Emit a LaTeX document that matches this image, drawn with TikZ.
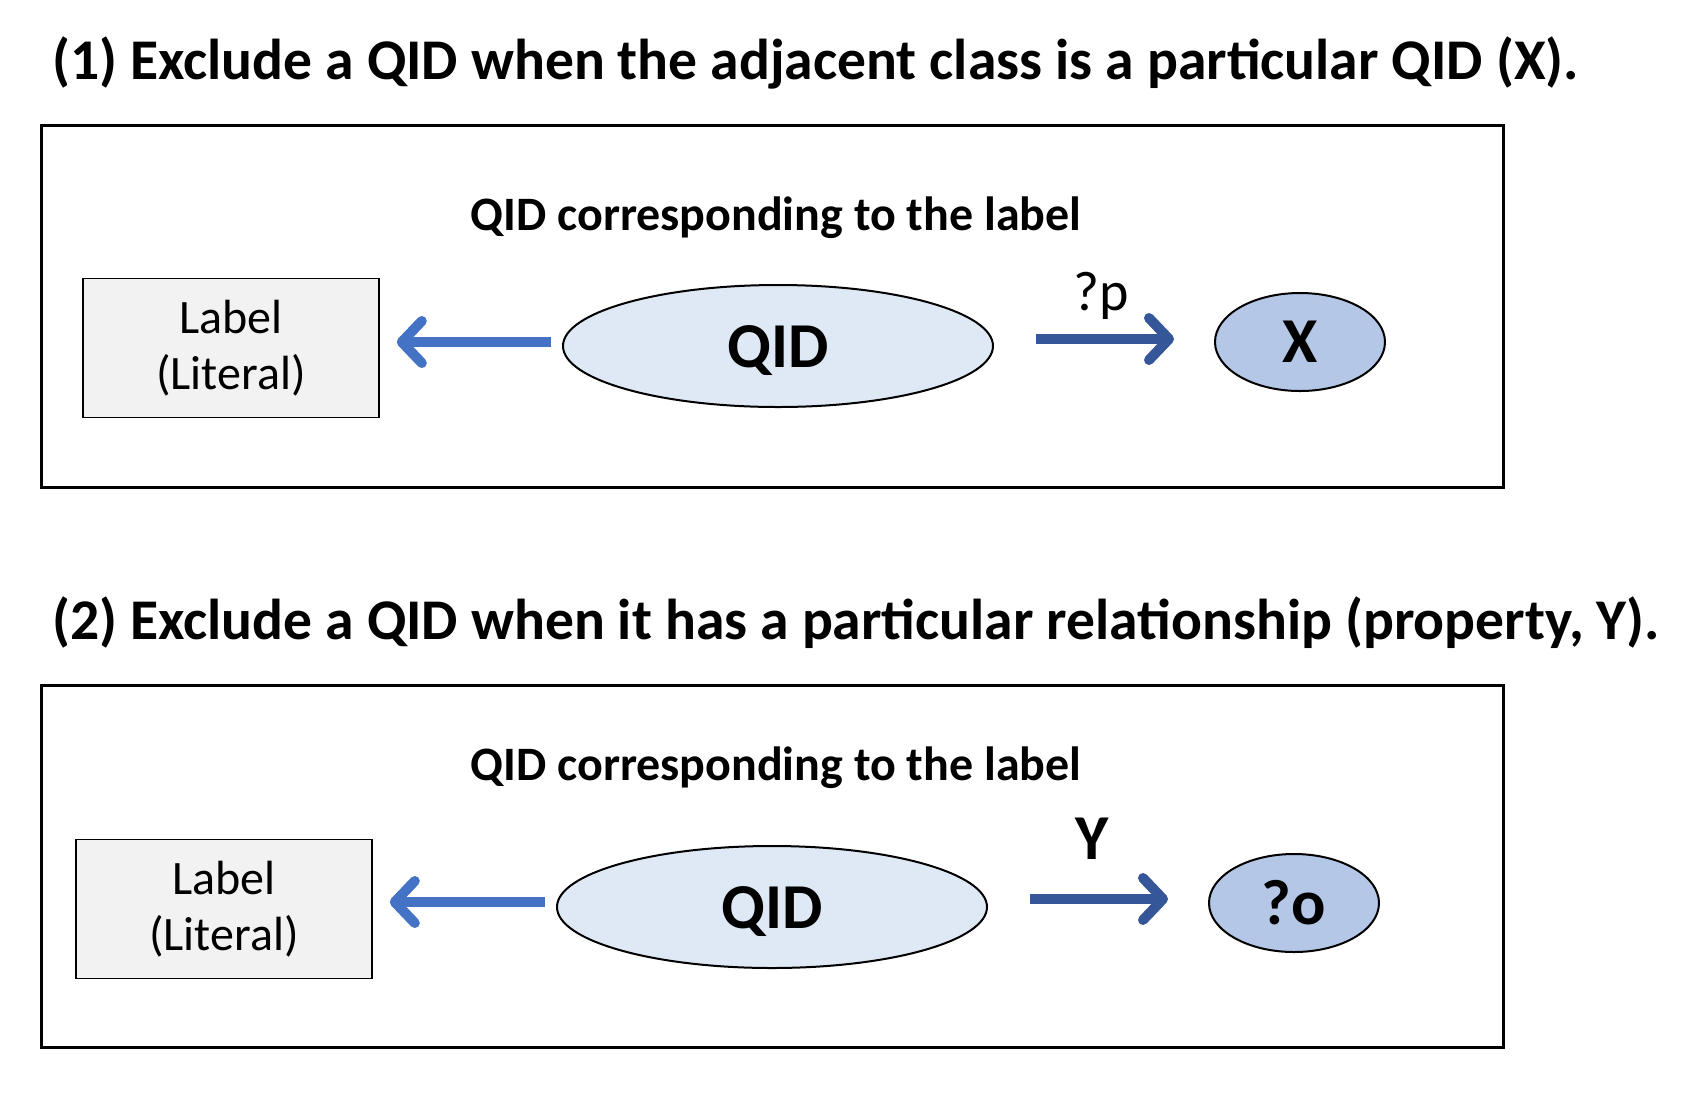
\documentclass[tikz,border=0pt]{standalone}
\usepackage{fontspec}
\setmainfont{Carlito}
\usepackage{tikz}
\usetikzlibrary{arrows.meta, shapes.geometric, positioning}
\definecolor{azul}{HTML}{4472C4}
\definecolor{marinho}{HTML}{36569A}
\definecolor{gelo}{HTML}{DFE9F5}
\definecolor{lavanda}{HTML}{B4C7E7}
\definecolor{cinza}{HTML}{F2F2F2}

\begin{document}
\begin{tikzpicture}[x=0.5pt, y=-0.5pt,
  titulo/.style={anchor=west, font=\fontsize{28.8}{34}\selectfont\bfseries},
  cabeca/.style={font=\fontsize{24}{29}\selectfont\bfseries},
  moldura/.style={line width=1.5pt},
  literal/.style={draw, fill=cinza, line width=0.8pt, minimum width=148pt,
    minimum height=69.5pt, align=center, font=\fontsize{24}{28}\selectfont},
  qid/.style={ellipse, draw, fill=gelo, line width=1pt, minimum width=215pt,
    minimum height=61pt, inner sep=0pt, font=\fontsize{32}{38}\selectfont\bfseries},
  alvo/.style={ellipse, draw, fill=lavanda, line width=1pt, minimum width=85pt,
    minimum height=49pt, inner sep=0pt, font=\fontsize{32}{38}\selectfont\bfseries},
  seta/.style={line width=5pt, -{Straight Barb[length=10pt, width=21pt, round]}}]
  \useasboundingbox (0,0) rectangle (1688,1094);

  % painel 1
  \node[titulo] (tit1) at (45,63) {(1) Exclude a QID when the adjacent class is a particular QID (X).};
  \draw[moldura] (41,125) rectangle (1503,487);
  \node[cabeca] (cab1) at (776,218) {QID corresponding to the label};
  \node[literal] (lit1) at (231,348) {Label\\(Literal)};
  \node[qid] (qid1) at (778,346) {\raisebox{-2.5pt}[\height][\depth]{QID}};
  \node[alvo] (x1) at (1300,342) {X};
  \draw[seta, azul, shorten <=5.5pt, shorten >=8.5pt]
    ([yshift=2pt]qid1.west) -- ([yshift=2pt]qid1.west -| lit1.east);
  \draw[seta, marinho, shorten <=21pt, shorten >=20pt]
    ([yshift=3.5pt]qid1.east) -- ([yshift=3.5pt]qid1.east -| x1.west)
    node[midway, above=4pt, xshift=-1.5pt, text=black, font=\fontsize{28}{34}\selectfont] (p1) {?p};

  % painel 2
  \node[titulo] (tit2) at (45,623) {(2) Exclude a QID when it has a particular relationship (property, Y).};
  \draw[moldura] (41,685) rectangle (1503,1047);
  \node[cabeca] (cab2) at (776,768) {QID corresponding to the label};
  \node[literal] (lit2) at (224,909) {Label\\(Literal)};
  \node[qid] (qid2) at (772,907) {\raisebox{-2.5pt}[\height][\depth]{QID}};
  \node[alvo] (o2) at (1294,903) {?o};
  \draw[seta, azul, shorten <=5.5pt, shorten >=8.5pt]
    ([yshift=2.5pt]qid2.west) -- ([yshift=2.5pt]qid2.west -| lit2.east);
  \draw[seta, marinho, shorten <=21pt, shorten >=20pt]
    ([yshift=4pt]qid2.east) -- ([yshift=4pt]qid2.east -| o2.west)
    node[midway, above=14pt, xshift=-3pt, text=black, font=\fontsize{32}{38}\selectfont\bfseries] (y2) {Y};
\end{tikzpicture}
\end{document}
